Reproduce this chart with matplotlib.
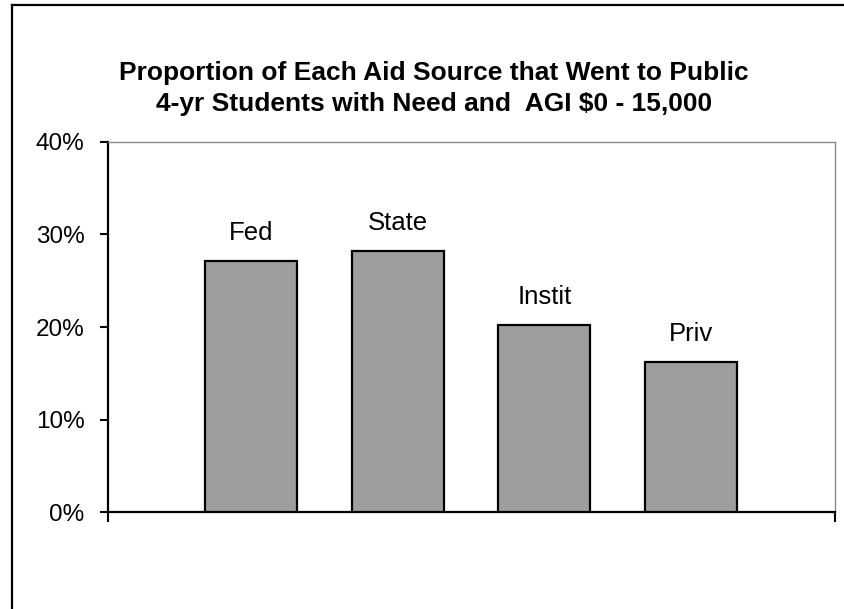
import matplotlib
matplotlib.use("Agg")
import matplotlib.pyplot as plt
from matplotlib.lines import Line2D

# data
sources = ["Fed", "State", "Instit", "Priv"]
share_pct = [27.1, 28.2, 20.2, 16.2]
y_ticks = [0, 10, 20, 30, 40]
y_tick_labels = ["0%", "10%", "20%", "30%", "40%"]

title = ("Proportion of Each Aid Source that Went to Public\n"
         "4-yr Students with Need and  AGI $0 - 15,000")

plt.rcParams['font.family'] = ['Liberation Sans', 'DejaVu Sans']

fig = plt.figure(figsize=(8.44, 6.09), dpi=100)
ax = fig.add_axes([0.128, 0.1588, 0.861, 0.6085])

pos = list(range(1, len(sources) + 1))
bars = ax.bar(pos, share_pct, width=0.627, color='#9e9e9e',
              edgecolor='black', linewidth=1.6, zorder=3)

for b, name in zip(bars, sources):
    ax.text(b.get_x() + b.get_width() / 2, b.get_height() + 3.0, name,
            ha='center', va='center', fontsize=18.5)

ax.set_xlim(0.025, 4.98)
ax.set_ylim(0, 40)
ax.set_yticks(y_ticks)
ax.set_yticklabels(y_tick_labels, fontsize=17.5)
ax.set_xticks([0.025, 4.98])
ax.set_xticklabels(["", ""])
ax.tick_params(axis='y', direction='out', length=6, width=1.5, pad=11)
ax.tick_params(axis='x', direction='out', length=7, width=1.5)

for side in ['left', 'bottom']:
    ax.spines[side].set_color('black')
    ax.spines[side].set_linewidth(1.6)
for side in ['top', 'right']:
    ax.spines[side].set_color('#8a8a8a')
    ax.spines[side].set_linewidth(1.0)

fig.text(0.514, 0.855, title, ha='center', va='center', fontsize=19,
         fontweight='bold', linespacing=1.4)

# outer chart frame
fig.add_artist(Line2D([0.0142, 0.0142], [0.0, 0.992], color='black', lw=1.6))
fig.add_artist(Line2D([0.0142, 1.0], [0.992, 0.992], color='black', lw=1.6))

fig.savefig("out.png", dpi=100)
